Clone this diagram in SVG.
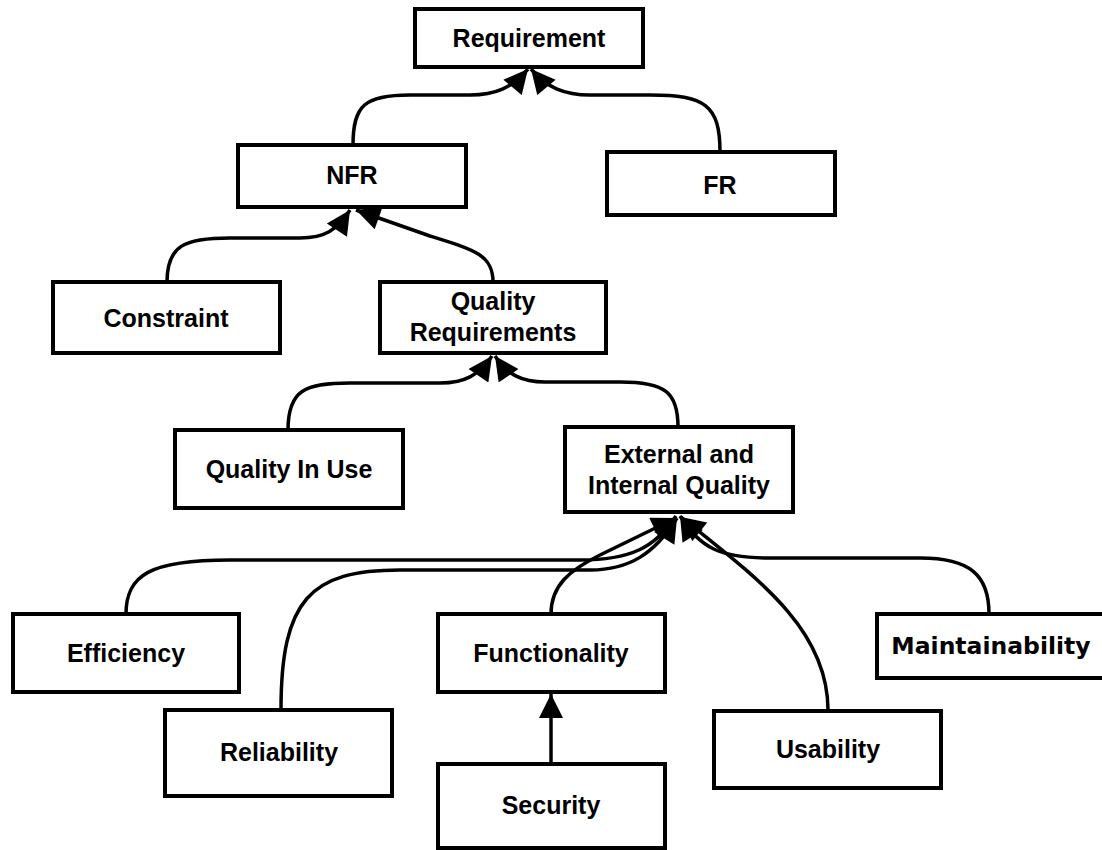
<svg xmlns="http://www.w3.org/2000/svg" width="1102" height="850" viewBox="0 0 1102 850">
<style>
.box{fill:#fff;stroke:#000;stroke-width:4}
.t{font-family:"Liberation Sans",Arial,sans-serif;font-weight:bold;font-size:25px;text-anchor:middle;fill:#000}
.d{font-family:"DejaVu Sans",sans-serif;font-weight:bold;font-size:23.5px;text-anchor:middle;fill:#000}
.c{fill:none;stroke:#000;stroke-width:3.5}
</style>
<defs>
<marker id="ah" viewBox="0 0 24 24" refX="24" refY="12" markerWidth="26" markerHeight="24" markerUnits="userSpaceOnUse" orient="auto">
<path d="M0,0 L24,12 L0,24 z" fill="#000"/>
</marker>
</defs>
<rect width="1102" height="850" fill="#fff"/>
<g id="connectors">
<path class="c" marker-end="url(#ah)" d="M353,145 C353,105 365,95 410,95 L470,95 C495,95 512,88 528,69"/>
<path class="c" marker-end="url(#ah)" d="M720,152 C720,105 705,95 650,95 L590,95 C565,95 547,88 531,69"/>
<path class="c" marker-end="url(#ah)" d="M167,282 C167,245 185,238 230,238 L300,238 C325,238 337,230 350,210"/>
<path class="c" marker-end="url(#ah)" d="M493,282 C493,255 475,250 430,236 L356,210"/>
<path class="c" marker-end="url(#ah)" d="M288,430 C288,390 305,383 350,383 L440,383 C465,383 479,375 492,356"/>
<path class="c" marker-end="url(#ah)" d="M678,427 C678,392 665,382 620,382 L545,382 C522,382 508,375 495,356"/>
<path class="c" marker-end="url(#ah)" d="M126,614 C126,575 150,560 230,560 L580,560 C630,560 655,548 676,516"/>
<path class="c" marker-end="url(#ah)" d="M281,710 C281,600 310,570 400,570 L590,570 C630,570 655,553 677,518"/>
<path class="c" marker-end="url(#ah)" d="M551,614 C551,585 570,570 600,555 L676,518"/>
<path class="c" marker-end="url(#ah)" d="M828,710 C828,630 760,580 681,517"/>
<path class="c" marker-end="url(#ah)" d="M989,614 C989,575 970,558 920,558 L770,558 C720,558 700,548 680,516"/>
<path class="c" marker-end="url(#ah)" d="M551,763 L551,694"/>
</g>
<g id="requirement"><rect class="box" x="415" y="9" width="228" height="58"/><text class="t" x="529" y="47">Requirement</text></g>
<g id="nfr"><rect class="box" x="238" y="145" width="228" height="62"/><text class="t" x="352" y="184">NFR</text></g>
<g id="fr"><rect class="box" x="607" y="152" width="228" height="63"/><text class="t" x="720" y="194">FR</text></g>
<g id="constraint"><rect class="box" x="53" y="282" width="227" height="71"/><text class="t" x="166" y="327">Constraint</text></g>
<g id="quality-requirements"><rect class="box" x="380" y="282" width="226" height="71"/><text class="t" x="493" y="310">Quality</text><text class="t" x="493" y="341">Requirements</text></g>
<g id="quality-in-use"><rect class="box" x="175" y="430" width="228" height="78"/><text class="t" x="289" y="478">Quality In Use</text></g>
<g id="external-internal"><rect class="box" x="565" y="427" width="228" height="85"/><text class="t" x="679" y="463">External and</text><text class="t" x="679" y="494">Internal Quality</text></g>
<g id="efficiency"><rect class="box" x="13" y="614" width="226" height="78"/><text class="t" x="126" y="662">Efficiency</text></g>
<g id="functionality"><rect class="box" x="438" y="614" width="227" height="78"/><text class="t" x="551" y="662">Functionality</text></g>
<g id="maintainability"><rect class="box" x="877" y="614" width="228" height="64"/><text class="d" x="991" y="654">Maintainability</text></g>
<g id="reliability"><rect class="box" x="165" y="710" width="227" height="86"/><text class="t" x="279" y="761">Reliability</text></g>
<g id="security"><rect class="box" x="438" y="764" width="227" height="84"/><text class="t" x="551" y="814">Security</text></g>
<g id="usability"><rect class="box" x="714" y="711" width="227" height="77"/><text class="t" x="828" y="758">Usability</text></g>
</svg>
